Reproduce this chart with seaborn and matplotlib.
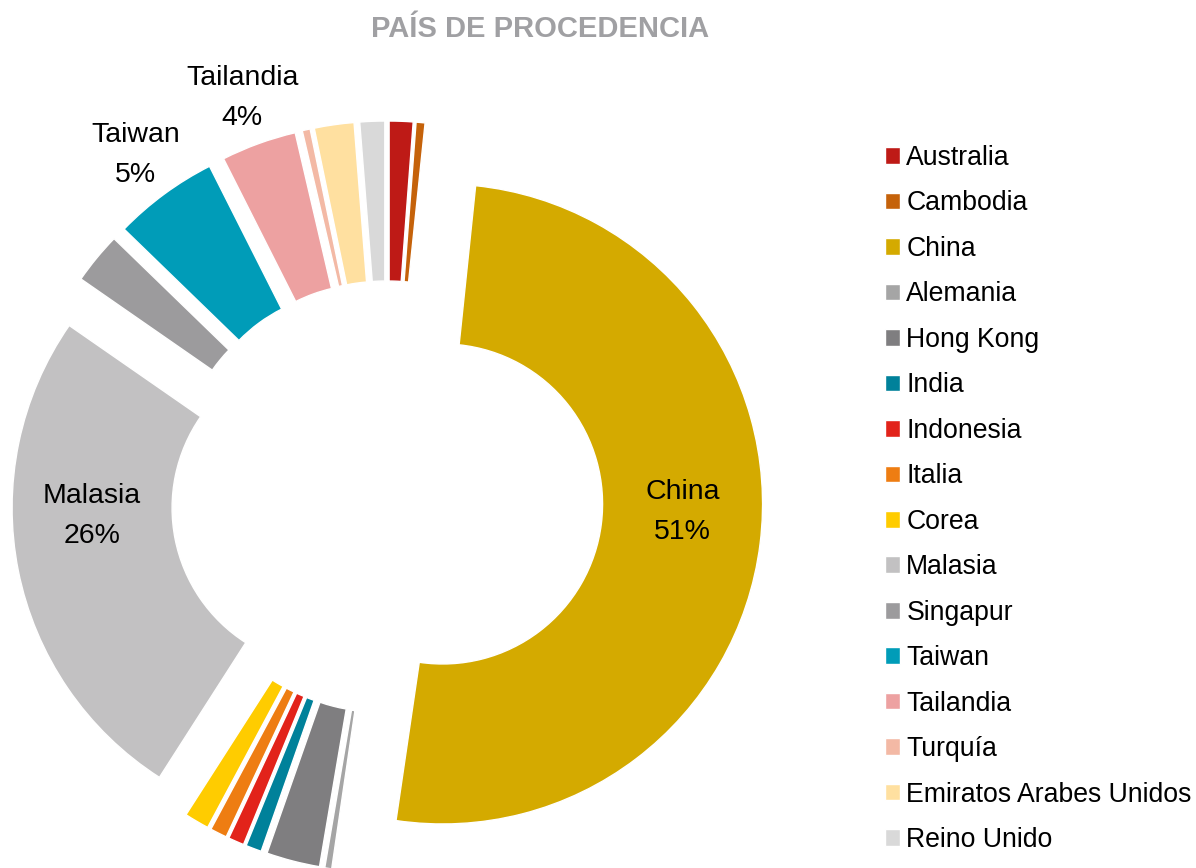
import matplotlib
matplotlib.use("Agg")
import matplotlib.pyplot as plt
import seaborn as sns
import numpy as np

# ---- data ----
countries = ["Australia", "Cambodia", "China", "Alemania", "Hong Kong", "India",
             "Indonesia", "Italia", "Corea", "Malasia", "Singapur", "Taiwan",
             "Tailandia", "Turquía", "Emiratos Arabes Unidos", "Reino Unido"]
shares = [1.2, 0.45, 50.7, 0.35, 2.7, 0.8, 0.8, 0.85, 1.25, 25.6, 2.6, 5.3,
          3.8, 0.4, 2.0, 1.25]
colors = ["#BE1A16", "#C5620A", "#D4AA00", "#A5A5A5", "#7F7E80", "#00819A",
          "#E2231A", "#EE7D12", "#FFCC00", "#C2C1C2", "#9C9B9D", "#009CB8",
          "#EDA1A1", "#F3B9A5", "#FFE0A0", "#D9D9D9"]
inside_labels = ["China", "Malasia"]
outside_labels = ["Taiwan", "Tailandia"]
title = "PAÍS DE PROCEDENCIA"

sns.set_theme(style="white")
plt.rcParams["font.family"] = ["Liberation Sans", "DejaVu Sans"]

W, H = 1196, 868
fig = plt.figure(figsize=(W / 100, H / 100), dpi=100)
ax = fig.add_axes([0, 0, 1, 1])

R = 320
ring = 160
cx, cy = 387, H - 497
wedges, _ = ax.pie(shares, colors=colors, startangle=90, counterclock=False,
                   radius=R, center=(cx, cy), explode=[56] * len(shares),
                   wedgeprops=dict(width=ring, edgecolor="white", linewidth=1))
ax.set_xlim(0, W)
ax.set_ylim(0, H)
ax.set_aspect("auto")
ax.axis("off")

total = sum(shares)
for w, name, v in zip(wedges, countries, shares):
    x0, y0 = w.center
    mid = np.deg2rad(0.5 * (w.theta1 + w.theta2))
    txt = f"{name}\n{round(v / total * 100):.0f}%"
    if name in inside_labels:
        r = R - ring / 2
        tx, ty = x0 + r * np.sign(np.cos(mid)), y0 - 8
    elif name in outside_labels:
        r = R + 48
        tx, ty = x0 + r * np.cos(mid), y0 + r * np.sin(mid)
    else:
        continue
    ax.text(tx, ty, txt, ha="center", va="center", fontsize=20.5,
            color="black", linespacing=1.7)

fig.text(540 / W, 1 - 29 / H, title, ha="center", va="center",
         fontsize=21, fontweight="bold", color="#A0A0A3")

leg = fig.legend(wedges, countries, loc="upper left",
                 bbox_to_anchor=(885 / W, 1 - 145 / H), frameon=False,
                 fontsize=19.2, handlelength=0.58, handleheight=0.58,
                 handletextpad=0.22, labelspacing=0.73, borderpad=0,
                 borderaxespad=0, labelcolor="black")

fig.savefig("out.png", dpi=100, facecolor="white")
